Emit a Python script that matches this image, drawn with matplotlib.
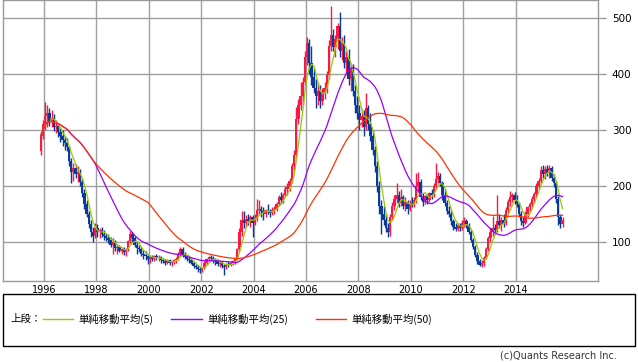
import numpy as np
import pandas as pd
import matplotlib
matplotlib.use("Agg")
import matplotlib.pyplot as plt
from matplotlib.patches import Rectangle
from matplotlib.lines import Line2D

# ---- data: monthly candles, Nov 1995 .. Oct 2015 ----
start_year, start_month = 1995, 11

opens = [262, 290,
 310, 325, 330, 315, 322, 305, 308, 296, 290, 282, 276, 270,
 245, 225, 232, 222, 226, 208, 188, 168, 150, 132, 118, 112,
 125, 118, 122, 115, 112, 108, 104, 96, 100, 90, 92, 85,
 88, 82, 86, 102, 115, 108, 96, 90, 88, 80, 78, 76,
 70, 74, 70, 75, 72, 74, 68, 66, 64, 68, 63, 66,
 68, 70, 80, 88, 78, 74, 70, 68, 64, 58, 56, 52,
 50, 54, 64, 70, 74, 72, 68, 66, 62, 64, 58, 56,
 62, 60, 64, 66, 70, 88, 118, 140, 135, 142, 138, 145,
 135, 142, 158, 160, 155, 150, 158, 156, 152, 158, 160, 168,
 180, 175, 185, 195, 198, 210, 235, 255, 320, 345, 360, 385,
 430, 455, 420, 395, 375, 360, 370, 352, 368, 375, 398, 450,
 470, 448, 462, 485, 440, 455, 420, 430, 390, 410, 370, 345,
 330, 318, 325, 305, 340, 310, 290, 265, 235, 200, 165, 150,
 140, 125, 118, 145, 165, 178, 185, 170, 180, 165, 172, 160,
 170, 168, 175, 200, 208, 180, 172, 182, 176, 188, 185, 200,
 212, 218, 205, 185, 170, 155, 150, 138, 128, 124, 130, 125,
 135, 138, 130, 118, 105, 92, 78, 66, 60, 64, 72, 88,
 108, 118, 125, 122, 138, 130, 140, 135, 158, 172, 180, 184,
 175, 168, 150, 138, 135, 150, 162, 168, 178, 186, 200, 210,
 228, 222, 230, 224, 232, 215, 205, 178, 145, 132]

highs = [296, 318,
 350, 345, 340, 335, 328, 318, 312, 305, 300, 290, 285, 272,
 250, 242, 240, 235, 230, 212, 195, 175, 155, 140, 128, 135,
 132, 126, 128, 122, 116, 114, 110, 108, 104, 96, 95, 92,
 92, 90, 105, 120, 118, 112, 100, 96, 92, 86, 84, 80,
 78, 78, 78, 80, 78, 76, 72, 70, 70, 70, 68, 70,
 74, 82, 92, 92, 82, 78, 74, 72, 66, 62, 60, 56,
 56, 66, 72, 76, 78, 76, 72, 70, 68, 66, 62, 64,
 66, 66, 68, 72, 90, 125, 155, 155, 148, 150, 148, 148,
 150, 178, 175, 165, 162, 160, 168, 160, 162, 165, 172, 185,
 190, 188, 200, 205, 215, 242, 265, 341, 355, 385, 395, 440,
 465, 462, 450, 410, 390, 385, 380, 375, 385, 405, 460, 520,
 480, 470, 490, 510, 465, 470, 440, 445, 420, 418, 380, 360,
 345, 338, 335, 365, 345, 330, 300, 272, 245, 210, 175, 165,
 150, 135, 150, 172, 185, 205, 192, 195, 185, 180, 176, 176,
 180, 180, 223, 225, 212, 188, 185, 186, 190, 195, 205, 242,
 225, 224, 210, 195, 175, 165, 155, 142, 135, 135, 135, 140,
 145, 142, 135, 122, 108, 96, 82, 70, 68, 75, 92, 112,
 125, 146, 132, 184, 150, 145, 150, 162, 178, 192, 188, 190,
 185, 172, 155, 145, 155, 165, 172, 182, 190, 205, 215, 235,
 238, 236, 238, 238, 236, 222, 210, 182, 150, 145]

lows = [255, 284,
 300, 305, 308, 305, 298, 295, 288, 278, 272, 265, 262, 235,
 205, 210, 215, 208, 200, 180, 160, 145, 125, 110, 100, 108,
 110, 108, 110, 105, 102, 98, 92, 80, 85, 80, 82, 80,
 78, 76, 84, 98, 100, 92, 80, 82, 76, 70, 68, 62,
 64, 66, 66, 68, 67, 64, 63, 60, 62, 60, 58, 62,
 64, 68, 76, 74, 70, 66, 64, 62, 55, 52, 48, 46,
 47, 52, 60, 66, 68, 64, 60, 58, 56, 55, 42, 52,
 56, 57, 60, 62, 68, 85, 112, 125, 128, 130, 128, 110,
 130, 138, 150, 145, 140, 145, 150, 145, 148, 150, 155, 165,
 168, 170, 180, 185, 192, 205, 228, 250, 310, 335, 345, 380,
 415, 400, 380, 365, 340, 345, 340, 345, 355, 365, 390, 440,
 440, 430, 445, 430, 425, 410, 400, 380, 370, 360, 330, 320,
 300, 305, 290, 300, 300, 280, 255, 225, 190, 150, 115, 130,
 118, 109, 112, 140, 158, 170, 162, 165, 160, 155, 150, 155,
 162, 162, 170, 190, 175, 165, 168, 168, 172, 178, 180, 195,
 205, 200, 175, 165, 150, 145, 130, 122, 120, 120, 120, 122,
 128, 125, 115, 100, 88, 74, 62, 57, 56, 58, 70, 85,
 100, 112, 115, 118, 125, 120, 128, 130, 152, 165, 172, 168,
 162, 145, 130, 128, 132, 145, 155, 162, 170, 180, 195, 205,
 215, 212, 218, 215, 210, 198, 170, 130, 125, 128]

closes = [290, 310,
 325, 330, 315, 322, 305, 308, 296, 290, 282, 276, 270, 245,
 225, 232, 222, 226, 208, 188, 168, 150, 132, 118, 112, 125,
 118, 122, 115, 112, 108, 104, 96, 100, 90, 92, 85, 88,
 82, 86, 102, 115, 108, 96, 90, 88, 80, 78, 76, 70,
 74, 70, 75, 72, 74, 68, 66, 64, 68, 63, 66, 68,
 70, 80, 88, 78, 74, 70, 68, 64, 58, 56, 52, 50,
 54, 64, 70, 74, 72, 68, 66, 62, 64, 58, 56, 62,
 60, 64, 66, 70, 88, 118, 140, 135, 142, 138, 145, 135,
 142, 158, 160, 155, 150, 158, 156, 152, 158, 160, 168, 180,
 175, 185, 195, 198, 210, 235, 255, 320, 345, 360, 385, 430,
 455, 420, 395, 375, 360, 370, 352, 368, 375, 398, 450, 470,
 448, 462, 485, 440, 455, 420, 430, 390, 410, 370, 345, 330,
 318, 325, 305, 340, 310, 290, 265, 235, 200, 165, 150, 140,
 125, 118, 145, 165, 178, 185, 170, 180, 165, 172, 160, 170,
 168, 175, 200, 208, 180, 172, 182, 176, 188, 185, 200, 212,
 218, 205, 185, 170, 155, 150, 138, 128, 124, 130, 125, 135,
 138, 130, 118, 105, 92, 78, 66, 60, 64, 72, 88, 108,
 118, 125, 122, 138, 130, 140, 135, 158, 172, 180, 184, 175,
 168, 150, 138, 135, 150, 162, 168, 178, 186, 200, 210, 228,
 222, 230, 224, 232, 215, 205, 178, 145, 132, 140]

ma_windows = [5, 25, 50]
ma_labels = ["単純移動平均(5)", "単純移動平均(25)", "単純移動平均(50)"]
ma_colors = ["#99cc00", "#9900ff", "#ff3300"]
x_tick_years = [1996, 1998, 2000, 2002, 2004, 2006, 2008, 2010, 2012, 2014]
y_ticks = [100, 200, 300, 400, 500]

# ---- build frame ----
n = len(closes)
idx = start_month - 1 + np.arange(n)
t = start_year + (idx + 0.5) / 12.0
df = pd.DataFrame({"t": t, "o": opens, "h": highs, "l": lows, "c": closes})

W, H = 638, 362
fig = plt.figure(figsize=(W / 100, H / 100), dpi=100)
ax = fig.add_axes([3 / W, 1 - 281 / H, 595 / W, 281 / H])

up = df["c"] >= df["o"]
col_up, col_dn = "#ff1744", "#0a3a9a"
colors = np.where(up, col_up, col_dn)
ax.vlines(df["t"], df["l"], df["h"], colors=colors, linewidth=1.0, zorder=2)
bw = 0.09
bottoms = np.minimum(df["o"], df["c"])
heights = np.abs(df["c"] - df["o"]).clip(lower=1.0)
ax.bar(df["t"], heights, bottom=bottoms, width=bw, color=colors, linewidth=0, zorder=2)

for w, c in zip(ma_windows, ma_colors):
    ma = df["c"].rolling(w, min_periods=1).mean()
    ax.plot(df["t"], ma, color=c, linewidth=0.9, zorder=3)

x0 = 1996 - 41 / 26.2
x1 = 1996 + 554 / 26.2
ax.set_xlim(x0, x1)
ax.set_ylim(31.1, 531.5)

ax.set_xticks(x_tick_years)
ax.set_xticklabels([str(y) for y in x_tick_years], fontsize=7, family="DejaVu Sans")
ax.tick_params(axis="x", length=0, pad=3)
ax.set_yticks(y_ticks)
ax.yaxis.tick_right()
ax.tick_params(axis="y", length=6, width=1, color="#999999", pad=4, labelsize=7.5)
ax.grid(True, color="#a0a0a0", linewidth=1)
ax.set_axisbelow(True)
for s in ax.spines.values():
    s.set_color("#999999")
    s.set_linewidth(1)

# ---- legend box ----
def fx(px):
    return px / W

def fy(py):
    return 1 - py / H

fig.patches.append(Rectangle((fx(3), fy(346)), fx(632), 52 / H, transform=fig.transFigure,
                             fill=False, edgecolor="black", linewidth=1))
cjk = ["Noto Sans CJK JP", "DejaVu Sans"]
ly = 319
fig.text(fx(10), fy(ly), "上段：", fontsize=7.5, family=cjk, va="center", ha="left")
line_x = [(43, 73), (171, 202), (316, 346)]
text_x = [78, 207, 351]
for (a, b), tx, lab, c in zip(line_x, text_x, ma_labels, ma_colors):
    fig.lines.append(Line2D([fx(a), fx(b)], [fy(ly), fy(ly)], transform=fig.transFigure,
                            color=c, linewidth=1))
    fig.text(fx(tx), fy(ly), lab, fontsize=7.5, family=cjk, va="center", ha="left")

fig.text(fx(617), fy(356), "(c)Quants Research Inc.", fontsize=7, color="#333333",
         ha="right", va="center")

fig.savefig("out.png", dpi=100)
